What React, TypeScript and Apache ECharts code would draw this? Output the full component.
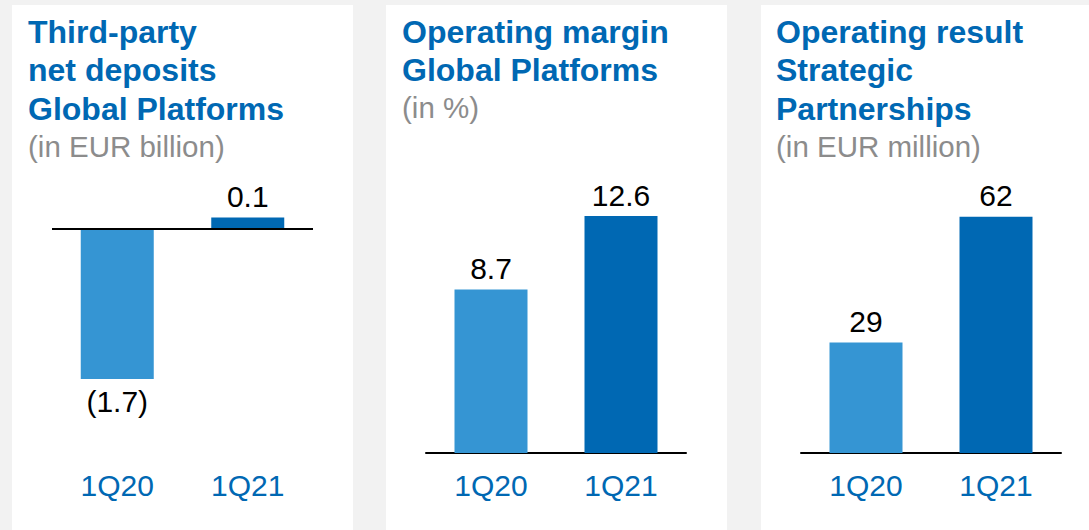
import React, { useEffect, useRef } from "react";
import * as echarts from "echarts";

const categories = ["1Q20", "1Q21"];
const depositsValues = [-1.7, 0.13];
const marginValues = [8.7, 12.6];
const resultValues = [29, 62];

const titles = [
  "Third-party\nnet deposits\nGlobal Platforms",
  "Operating margin\nGlobal Platforms",
  "Operating result\nStrategic\nPartnerships",
];
const subtitles = ["(in EUR billion)", "(in %)", "(in EUR million)"];

const BLUE = "#0068b3";
const LIGHT = "#3595d3";
const FONT = "'Liberation Sans', Arial, sans-serif";

const fmt = (v: number) => (v < 0 ? `(${Math.abs(v).toFixed(1)})` : v.toFixed(1));

export default function App() {
  const ref = useRef<HTMLDivElement>(null);
  useEffect(() => {
    if (!ref.current) return;
    const chart = echarts.init(ref.current, undefined, { renderer: "svg" });

    const panelsX = [12, 386, 761];
    const panelsW = [341, 341, 340];
    const titleLeft = [28, 402, 776];
    const grids = [
      { left: 52, width: 261 },
      { left: 426, width: 260 },
      { left: 801, width: 260 },
    ];
    const yRanges = [
      [-2.54, 0.5],
      [0, 14.25],
      [0, 70.3],
    ];
    const seriesVals = [depositsValues, marginValues, resultValues];
    const formatters = [fmt, (v: number) => v.toFixed(1), (v: number) => String(v)];

    const option: any = {
      animation: false,
      backgroundColor: "#f2f2f2",
      graphic: panelsX.map((x, i) => ({
        type: "rect",
        shape: { x, y: 5, width: panelsW[i], height: 540 },
        style: { fill: "#ffffff" },
        silent: true,
        z: -10,
      })),
      title: titles.map((t, i) => ({
        text: t,
        subtext: subtitles[i],
        left: titleLeft[i],
        top: 13,
        padding: 0,
        itemGap: -1,
        textStyle: {
          fontFamily: FONT,
          fontWeight: "bold",
          fontSize: 32,
          color: BLUE,
          lineHeight: 38.3,
        },
        subtextStyle: {
          fontFamily: FONT,
          fontSize: 29.5,
          color: "#8c8c8c",
          lineHeight: 38.3,
        },
      })),
      grid: grids.map((g) => ({ left: g.left, width: g.width, top: 185, height: 268 })),
      xAxis: grids.map((_, i) => ({
        type: "category",
        gridIndex: i,
        data: categories,
        axisLine: {
          show: i !== 0,
          onZero: false,
          lineStyle: { color: "#000", width: 2 },
        },
        axisTick: { show: false },
        axisLabel: {
          margin: 17,
          fontFamily: FONT,
          fontSize: 30,
          color: BLUE,
        },
      })),
      yAxis: yRanges.map((r, i) => ({
        type: "value",
        gridIndex: i,
        min: r[0],
        max: r[1],
        show: false,
        splitLine: { show: false },
      })),
      series: seriesVals.map((vals, i) => ({
        type: "bar",
        xAxisIndex: i,
        yAxisIndex: i,
        barWidth: 73,
        data: vals.map((v, j) => ({
          value: v,
          itemStyle: { color: j === 0 ? LIGHT : BLUE },
          label: { position: v < 0 ? "bottom" : "top", distance: v < 0 ? 8 : 6 },
        })),
        label: {
          show: true,
          fontFamily: FONT,
          fontSize: 30,
          color: "#000",
          formatter: (p: any) => formatters[i](p.value),
        },
        markLine:
          i === 0
            ? {
                silent: true,
                symbol: ["none", "none"],
                label: { show: false },
                lineStyle: { color: "#000", width: 2, type: "solid" },
                data: [{ yAxis: 0 }],
              }
            : undefined,
      })),
    };
    chart.setOption(option);
    return () => chart.dispose();
  }, []);
  return (
    <div
      ref={ref}
      style={{ position: "absolute", left: 0, top: 0, width: 1089, height: 530 }}
    />
  );
}
